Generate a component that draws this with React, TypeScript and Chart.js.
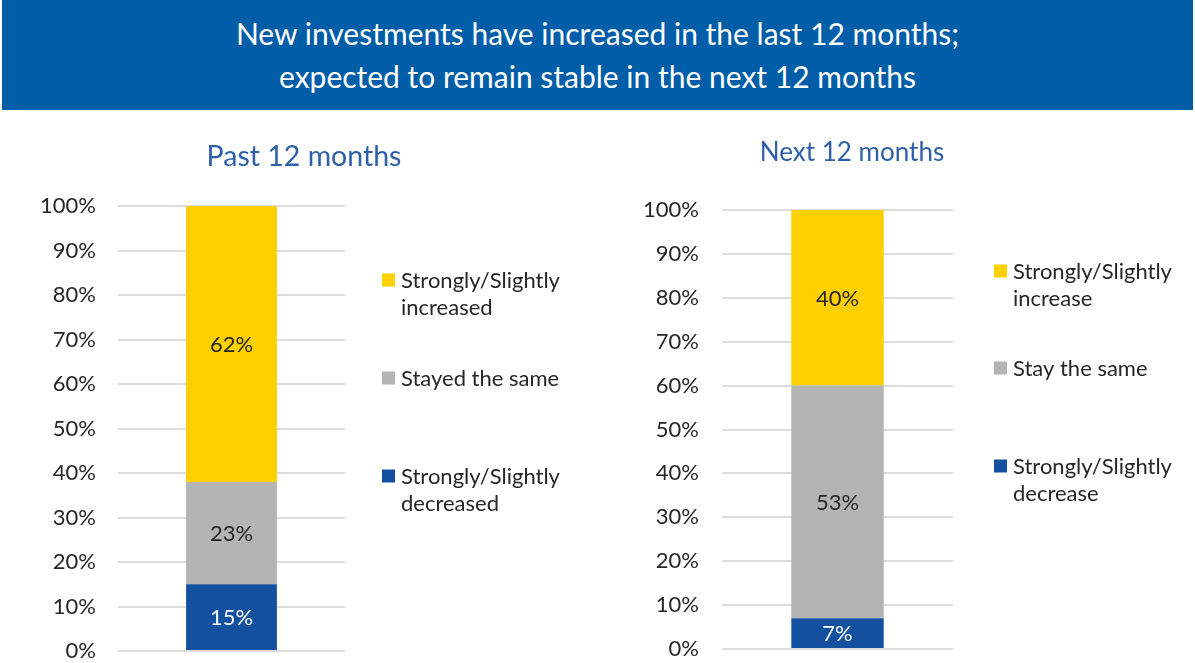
import React, { useEffect, useRef } from "react";
import { Chart, registerables } from "chart.js";

Chart.register(...registerables);

// ---------- data ----------
const headerLines = [
  "New investments have increased in the last 12 months;",
  "expected to remain stable in the next 12 months",
];

const pastCategories = ["Past 12 months"];
const pastSeriesLabels = ["Strongly/Slightly decreased", "Stayed the same", "Strongly/Slightly increased"];
const pastValues = [15, 23, 62];

const nextCategories = ["Next 12 months"];
const nextSeriesLabels = ["Strongly/Slightly decrease", "Stay the same", "Strongly/Slightly increase"];
const nextValues = [7, 53, 40];

const yTickValues = [0, 10, 20, 30, 40, 50, 60, 70, 80, 90, 100];

const seriesColors = ["#1450A0", "#B4B4B4", "#FFD000"];
const valueLabelColors = ["#FFFFFF", "#262626", "#262626"];

const FONT = "Lato, 'Open Sans', sans-serif";

// ---------- helpers ----------
function wrapText(ctx: CanvasRenderingContext2D, text: string, maxWidth: number): string[] {
  const words = text.split(" ");
  const lines: string[] = [];
  let cur = "";
  for (const w of words) {
    const test = cur ? cur + " " + w : w;
    if (ctx.measureText(test).width > maxWidth && cur) {
      lines.push(cur);
      cur = w;
    } else {
      cur = test;
    }
  }
  if (cur) lines.push(cur);
  return lines;
}

const overlayPlugin = {
  id: "overlay",
  afterDraw(chart: any, _args: any, opts: any) {
    const ctx: CanvasRenderingContext2D = chart.ctx;
    ctx.save();
    // value labels
    ctx.font = `${opts.valueFontSize}px ${FONT}`;
    ctx.textAlign = "center";
    ctx.textBaseline = "middle";
    chart.data.datasets.forEach((ds: any, i: number) => {
      const meta = chart.getDatasetMeta(i);
      meta.data.forEach((bar: any, j: number) => {
        const v = ds.data[j];
        const p = bar.getProps(["x", "y", "base"], true);
        ctx.fillStyle = opts.valueColors[i];
        ctx.fillText(`${v}%`, p.x, (p.y + p.base) / 2 + 1);
      });
    });
    // title
    ctx.font = `${opts.titleFontSize}px ${FONT}`;
    ctx.fillStyle = "#2F5FA8";
    ctx.fillText(opts.titleText, opts.titleX, opts.titleY);
    // legend (top = last dataset)
    ctx.font = `${opts.legendFontSize}px ${FONT}`;
    ctx.textAlign = "left";
    const n = chart.data.datasets.length;
    for (let k = 0; k < n; k++) {
      const ds = chart.data.datasets[n - 1 - k];
      const cy = opts.legendY[k];
      ctx.fillStyle = ds.backgroundColor;
      ctx.fillRect(opts.legendX, cy - 6.5, 13, 13);
      ctx.fillStyle = "#262626";
      const lines = wrapText(ctx, ds.label, opts.legendWrap);
      lines.forEach((ln, li) => {
        ctx.fillText(ln, opts.legendX + 19, cy + li * opts.legendLineHeight + 1);
      });
    }
    ctx.restore();
  },
};

interface PanelProps {
  categories: string[];
  seriesLabels: string[];
  values: number[];
  left: number;
  width: number;
  axisWidth: number;
  tickPadding: number;
  padTop: number;
  padRight: number;
  padBottom: number;
  titleX: number;
  titleY: number;
  titleFontSize: number;
  legendX: number;
  legendY: number[];
}

function Panel(p: PanelProps) {
  const ref = useRef<HTMLCanvasElement>(null);
  useEffect(() => {
    if (!ref.current) return;
    const chart = new Chart(ref.current, {
      type: "bar",
      data: {
        labels: p.categories,
        datasets: p.seriesLabels.map((lbl, i) => ({
          label: lbl,
          data: [p.values[i]],
          backgroundColor: seriesColors[i],
          borderWidth: 0,
          barPercentage: 0.4,
          categoryPercentage: 1,
        })),
      },
      options: {
        responsive: false,
        animation: false,
        events: [],
        layout: { padding: { left: 0, top: p.padTop, right: p.padRight, bottom: p.padBottom } },
        scales: {
          x: { display: false, stacked: true },
          y: {
            stacked: true,
            min: 0,
            max: 100,
            afterBuildTicks: (scale: any) => {
              scale.ticks = yTickValues.map((v) => ({ value: v }));
            },
            afterFit: (scale: any) => {
              scale.width = p.axisWidth;
              scale.paddingTop = 0;
              scale.paddingBottom = 0;
            },
            ticks: {
              padding: p.tickPadding,
              color: "#262626",
              font: { family: FONT, size: 22 },
              callback: (v: any) => `${v}%`,
            },
            grid: { color: "#DCDCDC", lineWidth: 2, drawTicks: false },
            border: { display: false },
          },
        },
        plugins: {
          legend: { display: false },
          tooltip: { enabled: false },
          overlay: {
            titleText: p.categories[0],
            titleX: p.titleX,
            titleY: p.titleY,
            titleFontSize: p.titleFontSize,
            valueFontSize: 22,
            valueColors: valueLabelColors,
            legendX: p.legendX,
            legendY: p.legendY,
            legendFontSize: 22,
            legendLineHeight: 27,
            legendWrap: 190,
          },
        } as any,
      },
      plugins: [overlayPlugin as any],
    });
    return () => chart.destroy();
  }, []);
  return (
    <canvas
      ref={ref}
      width={p.width}
      height={553}
      style={{ position: "absolute", left: p.left, top: 110, width: p.width, height: 553 }}
    />
  );
}

export default function App() {
  return (
    <div
      style={{
        position: "fixed",
        left: 0,
        top: 0,
        width: 1195,
        height: 663,
        background: "#FFFFFF",
        overflow: "hidden",
      }}
    >
      <div
        style={{
          position: "absolute",
          left: 2,
          top: 0,
          width: 1191,
          height: 110,
          background: "#005DA8",
          color: "#FFFFFF",
          fontFamily: FONT,
          fontSize: 30,
          lineHeight: "43px",
          textAlign: "center",
          paddingTop: 12,
          boxSizing: "border-box",
        }}
      >
        {headerLines.map((l, i) => (
          <div key={i}>{l}</div>
        ))}
      </div>
      <Panel
        categories={pastCategories}
        seriesLabels={pastSeriesLabels}
        values={pastValues}
        left={0}
        width={600}
        axisWidth={118}
        tickPadding={22}
        padTop={96}
        padRight={255}
        padBottom={12}
        titleX={304}
        titleY={47}
        titleFontSize={28.5}
        legendX={382}
        legendY={[170, 268, 366]}
      />
      <Panel
        categories={nextCategories}
        seriesLabels={nextSeriesLabels}
        values={nextValues}
        left={600}
        width={595}
        axisWidth={122}
        tickPadding={23}
        padTop={100}
        padRight={242}
        padBottom={14}
        titleX={252}
        titleY={43}
        titleFontSize={26}
        legendX={394}
        legendY={[161, 258, 356]}
      />
    </div>
  );
}
